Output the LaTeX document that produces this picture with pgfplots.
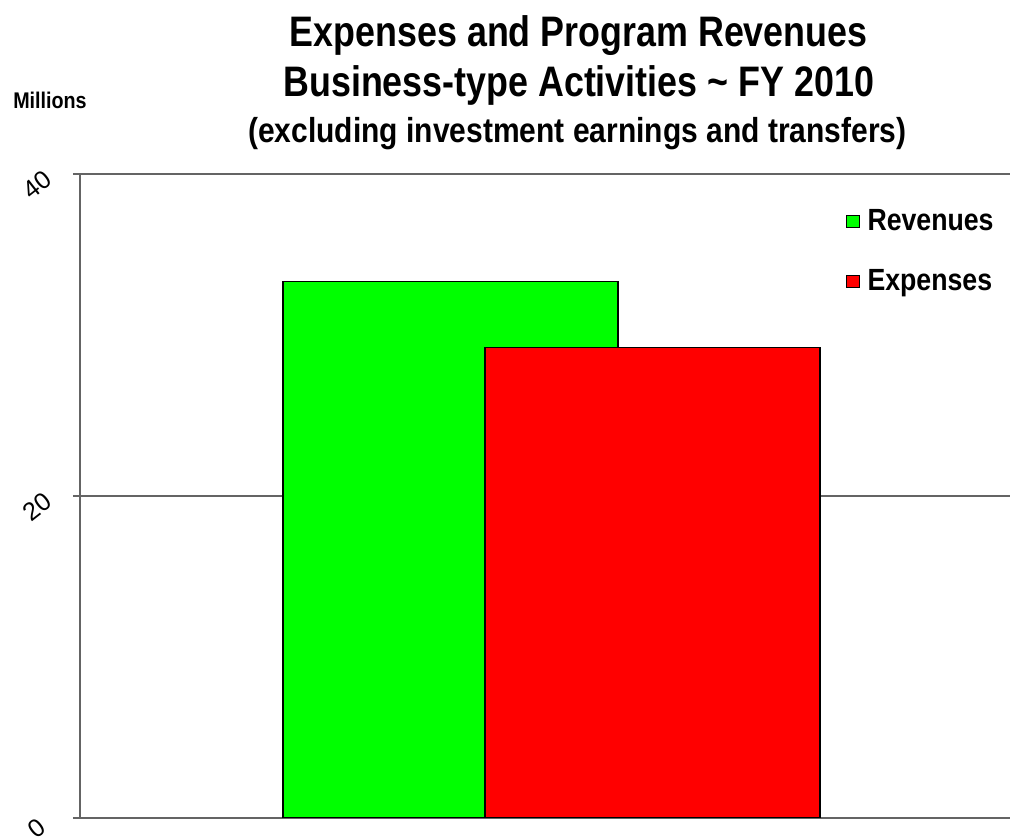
\documentclass[border=0pt]{standalone}
\usepackage{fontspec}
\setmainfont{Liberation Sans}
\usepackage{pgfplots}
\pgfplotsset{compat=1.18}
\definecolor{revgreen}{RGB}{0,255,0}
\definecolor{expred}{RGB}{255,0,0}
\definecolor{gridgray}{RGB}{100,100,100}
\newcommand{\narrow}[2]{\scalebox{#1}[1]{#2}}

\begin{document}
\begin{tikzpicture}
% page: 1010 x 837 px at 0.75pt per px
\path[use as bounding box] (0,0) rectangle (757.5pt,627.75pt);
\begin{axis}[
    at={(60pt,14.25pt)}, anchor=south west,
    scale only axis, width=697.5pt, height=483pt,
    xmin=0, xmax=930, ymin=0, ymax=40,
    axis x line*=bottom, axis y line*=left,
    axis line style={gridgray, line width=1.2pt, -},
    xtick=\empty,
    ytick={0,20,40},
    ymajorgrids, grid style={gridgray, line width=1.2pt},
    tick align=outside, major tick length=5.25pt,
    ytick style={gridgray, line width=1.2pt},
    /pgf/number format/assume math mode=true,
    yticklabel style={font=\fontsize{19}{19}\selectfont, xshift=-27pt, yshift=-8pt, rotate=38, anchor=center},
    legend style={at={(0.8237,0.88)}, anchor=west, draw=none, fill=none,
        inner sep=0pt, outer sep=0pt, column sep=6pt, row sep=27.5pt,
        font=\fontsize{23}{23}\selectfont\bfseries,
        nodes={inner sep=0pt, outer sep=0pt}},
    legend cell align=left,
    legend image code/.code={\draw[#1, draw=black, line width=0.6pt] (0pt,-4.5pt) rectangle (9.5pt,4.5pt);},
]
\addplot[ybar, bar width=335, bar shift=0pt, fill=revgreen, draw=black, line width=0.8pt]
    coordinates {(370.5,33.35)};
\addplot[ybar, bar width=335, bar shift=0pt, fill=expred, draw=black, line width=0.8pt]
    coordinates {(572.5,29.25)};
\legend{\narrow{0.87}{Revenues}, \narrow{0.87}{Expenses}}
\end{axis}
\node[anchor=base] at (434pt,592.5pt) {\narrow{0.84}{\fontsize{32}{32}\selectfont\bfseries Expenses and Program Revenues}};
\node[anchor=base] at (434pt,555pt) {\narrow{0.84}{\fontsize{32}{32}\selectfont\bfseries Business-type Activities \textasciitilde{} FY 2010}};
\node[anchor=base] at (433pt,520.5pt) {\narrow{0.865}{\fontsize{26}{26}\selectfont\bfseries (excluding investment earnings and transfers)}};
\node[anchor=base west, inner sep=0pt] at (9.75pt,546pt) {\narrow{0.87}{\fontsize{17}{17}\selectfont\bfseries Millions}};
\end{tikzpicture}
\end{document}
